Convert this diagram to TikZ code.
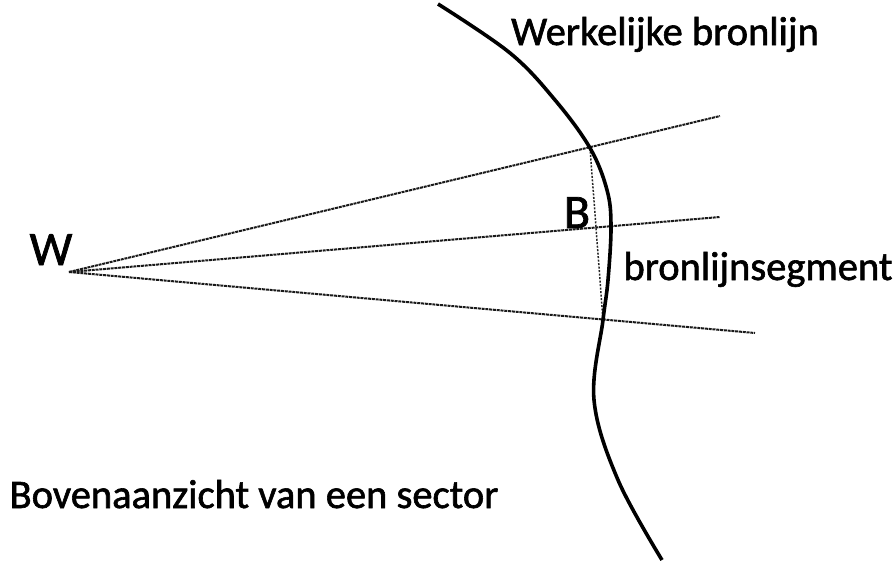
\documentclass[tikz,border=0pt]{standalone}
\usepackage{fontspec}
\setmainfont{Carlito}
\newfontfamily\heavyfont[UprightFeatures={FakeBold=1.5}]{Carlito}
\begin{document}
\begin{tikzpicture}[x=1pt,y=-1pt,
  lbl/.style={inner sep=0pt,font=\heavyfont\fontsize{40.5}{48}\selectfont},
  big/.style={inner sep=0pt,font=\heavyfont\fontsize{48}{56}\selectfont},
  ray/.style={draw=black!90,line width=2pt,dash pattern=on 3pt off 0.8pt},
  seg/.style={draw=black!85,line width=1.5pt,dash pattern=on 2pt off 1.5pt},
  curve/.style={draw=black,line width=3.6pt}]
\useasboundingbox (0,0) rectangle (893,562);
\coordinate (W0) at (69,272);
\coordinate (T) at (720,116);
\coordinate (M) at (720,217);
\coordinate (L) at (755,333);
\coordinate (P1) at (590,148);
\coordinate (P2) at (603,320);
\draw[ray] (W0) -- (T);
\draw[ray] (W0) -- (M);
\draw[ray] (W0) -- (L);
\draw[seg] (P1) -- (P2);
\draw[curve] plot[smooth,tension=0.6] coordinates {(438,4) (510,53) (555,100) (590,148) (607,190) (611,226) (608,280) (603,320) (594,400) (618,480) (662,560)};
\node[big,anchor=base] (w) at (51,265) {W};
\node[big,anchor=base] (b) at (577,228) {B};
\node[lbl,anchor=base] (wb) at (665,45) {Werkelijke bronlijn};
\node[lbl,anchor=base] (bs) at (758,280) {bronlijnsegment};
\node[lbl,anchor=base] (bov) at (254,508) {Bovenaanzicht van een sector};
\end{tikzpicture}
\end{document}
